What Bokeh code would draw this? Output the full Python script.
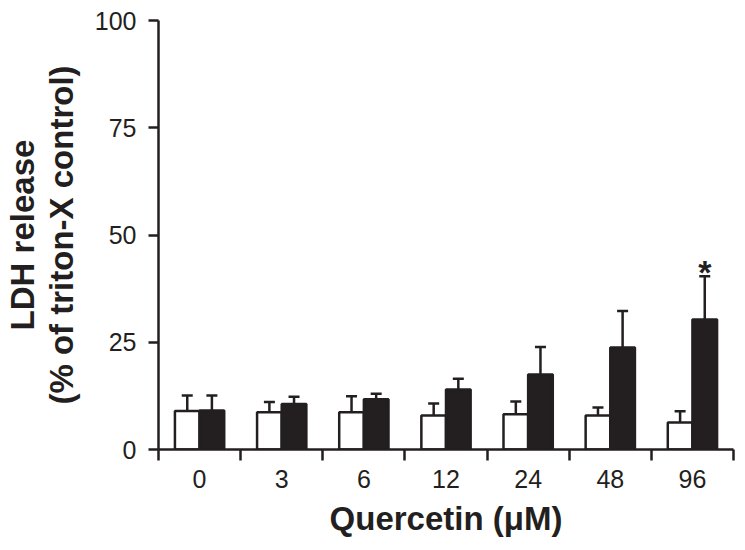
from bokeh.plotting import figure
from bokeh.models import Range1d, FixedTicker, ColumnDataSource, Whisker, TeeHead
from bokeh.core.properties import value
from bokeh.embed import file_html
from bokeh.resources import INLINE

# Data
doses = ["0", "3", "6", "12", "24", "48", "96"]
open_vals = [9.0, 8.7, 8.7, 7.9, 8.2, 7.9, 6.3]
open_err = [3.6, 2.4, 3.7, 2.8, 3.0, 1.9, 2.6]
filled_vals = [9.1, 10.6, 11.7, 14.0, 17.5, 23.8, 30.3]
filled_err = [3.5, 1.7, 1.3, 2.5, 6.4, 8.5, 10.1]
star_flags = ["", "", "", "", "", "", "*"]
y_ticks = [0, 25, 50, 75, 100]

FONT = "Liberation Sans"
INK = "#231f20"

n = len(doses)
centers = [i + 0.5 for i in range(n)]
bw = 0.30
x_open = [c - bw / 2 for c in centers]
x_fill = [c + bw / 2 for c in centers]

p = figure(width=737, height=542, output_backend="svg", toolbar_location=None,
           x_range=Range1d(0, n), y_range=Range1d(0, 100),
           min_border_left=155, min_border_right=4, min_border_top=20, min_border_bottom=93)
p.outline_line_color = None
p.grid.visible = False

src_o = ColumnDataSource(dict(x=x_open, top=open_vals, up=[v + e for v, e in zip(open_vals, open_err)]))
src_f = ColumnDataSource(dict(x=x_fill, top=filled_vals, up=[v + e for v, e in zip(filled_vals, filled_err)]))

for src in (src_o, src_f):
    w = Whisker(source=src, base="x", lower="top", upper="up", dimension="height",
                line_color=INK, line_width=2.5,
                upper_head=TeeHead(size=11, line_color=INK, line_width=2.5), lower_head=None)
    p.add_layout(w)

p.vbar(x="x", top="top", bottom=0, width=bw, source=src_o, fill_color="white", line_color=INK, line_width=2.5)
p.vbar(x="x", top="top", bottom=0, width=bw, source=src_f, fill_color=INK, line_color=INK, line_width=2.5)

star_src = ColumnDataSource(dict(x=x_fill, y=[v + e for v, e in zip(filled_vals, filled_err)], t=star_flags))
p.text(x="x", y="y", text="t", source=star_src, text_font=value(FONT), text_font_style="bold",
       text_font_size="34px", text_align="center", text_baseline="alphabetic", y_offset=-4, text_color=INK)

# x axis: labels at centres, ticks at category boundaries
xa = p.xaxis[0]
xa.ticker = FixedTicker(ticks=centers, minor_ticks=list(range(n + 1)))
xa.major_label_overrides = {c: d for c, d in zip(centers, doses)}
xa.major_tick_out = 0
xa.major_tick_in = 0
xa.minor_tick_out = 11
xa.minor_tick_in = 0
xa.minor_tick_line_width = 2.5
xa.minor_tick_line_color = INK
xa.axis_line_width = 2.5
xa.axis_line_color = INK
xa.major_label_text_font = FONT
xa.major_label_text_font_size = "25px"
xa.major_label_text_color = INK
xa.major_label_standoff = 9
xa.axis_label = "Quercetin (μM)"
xa.axis_label_text_font = FONT
xa.axis_label_text_font_style = "bold"
xa.axis_label_text_font_size = "33px"
xa.axis_label_text_color = INK
xa.axis_label_standoff = 9

ya = p.yaxis[0]
ya.ticker = FixedTicker(ticks=y_ticks, minor_ticks=[])
ya.major_tick_out = 10
ya.major_tick_in = 0
ya.major_tick_line_width = 2.5
ya.major_tick_line_color = INK
ya.axis_line_width = 2.5
ya.axis_line_color = INK
ya.major_label_text_font = FONT
ya.major_label_text_font_size = "25px"
ya.major_label_text_color = INK
ya.major_label_standoff = 12
ya.axis_label = "LDH release\n(% of triton-X control)"
ya.axis_label_text_font = FONT
ya.axis_label_text_font_style = "bold"
ya.axis_label_text_font_size = "33px"
ya.axis_label_text_color = INK
ya.axis_label_text_line_height = 1.05
ya.axis_label_standoff = 12

open("out.html", "w").write(file_html(p, INLINE))
